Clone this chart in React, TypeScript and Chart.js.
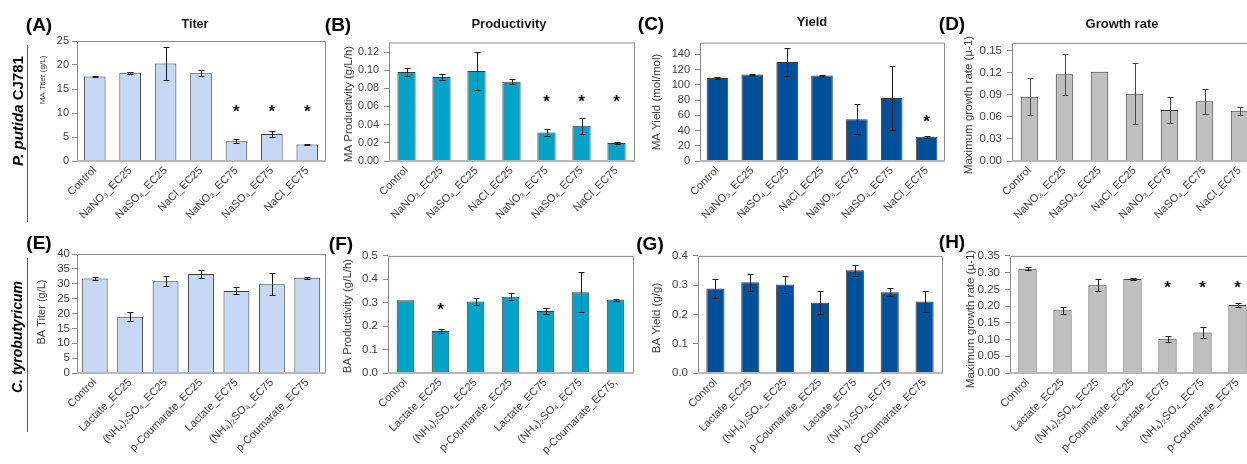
import React, { useEffect, useRef } from "react";
import { Chart, registerables } from "chart.js";

Chart.register(...registerables);

const FONT = '"Liberation Sans", Arial, Helvetica, sans-serif';

// Categories
const putidaLabels = ["Control", "NaNO₃_EC25", "NaSO₄_EC25", "NaCl_EC25", "NaNO₃_EC75", "NaSO₄_EC75", "NaCl_EC75"];
const tyroLabels = ["Control", "Lactate_EC25", "(NH₄)₂SO₄_EC25", "p-Coumarate_EC25", "Lactate_EC75", "(NH₄)₂SO₄_EC75", "p-Coumarate_EC75"];
const tyroLabelsF = ["Control", "Lactate_EC25", "(NH₄)₂SO₄_EC25", "p-Coumarate_EC25", "Lactate_EC75", "(NH₄)₂SO₄_EC75", "p-Coumarate_EC75,"];

// P. putida CJ781 series (mean, error)
const maTiter = [17.6, 18.4, 20.3, 18.3, 4.1, 5.6, 3.45];
const maTiterErr = [0.15, 0.2, 3.4, 0.6, 0.45, 0.7, 0.1];
const maProductivity = [0.098, 0.0925, 0.099, 0.0873, 0.0315, 0.0388, 0.0199];
const maProductivityErr = [0.004, 0.003, 0.0205, 0.003, 0.004, 0.0087, 0.0007];
const maYield = [109, 113.7, 130.1, 112.4, 54.8, 82.7, 31.9];
const maYieldErr = [0.8, 0.5, 18, 1.2, 19.5, 41.7, 1.5];
const ppGrowth = [0.0877, 0.1182, 0.1218, 0.0918, 0.0694, 0.0815, 0.0685];
const ppGrowthErr = [0.025, 0.028, 0, 0.0416, 0.018, 0.017, 0.0054];

// C. tyrobutyricum series (mean, error)
const baTiter = [31.8, 18.9, 30.8, 33.3, 27.6, 29.8, 32.0];
const baTiterErr = [0.4, 1.5, 1.7, 1.2, 1.2, 3.7, 0.3];
const baProductivity = [0.311, 0.179, 0.305, 0.326, 0.265, 0.345, 0.313];
const baProductivityErr = [0, 0.009, 0.014, 0.015, 0.013, 0.086, 0.004];
const baYield = [0.289, 0.31, 0.302, 0.24, 0.351, 0.276, 0.244];
const baYieldErr = [0.033, 0.029, 0.028, 0.04, 0.019, 0.013, 0.036];
const ctGrowth = [0.3116, 0.1877, 0.2626, 0.2812, 0.102, 0.121, 0.2036];
const ctGrowthErr = [0.005, 0.011, 0.017, 0.004, 0.01, 0.017, 0.006];

// Significance markers (1 = significant) and the level where the star sits
const sigA = [0, 0, 0, 0, 1, 1, 1];
const sigB = [0, 0, 0, 0, 1, 1, 1];
const sigC = [0, 0, 0, 0, 0, 0, 1];
const sigF = [0, 1, 0, 0, 0, 0, 0];
const sigH = [0, 0, 0, 0, 1, 1, 1];
const none = [0, 0, 0, 0, 0, 0, 0];

const LIGHT_BLUE = "#c5d8f6";
const CYAN = "#02a2c9";
const NAVY = "#00509b";
const GREY = "#bfbfbf";

type Spec = {
  key: string;
  labels: string[];
  values: number[];
  errors: number[];
  sig: number[];
  sigLevel: number;
  color: string;
  barPct: number;
  yMax: number;
  yStep: number;
  dec: number;
  yTitle: string;
  yTitleSize: number;
  yTitleX: number;
  yTitleY: number;
  tickSize: number;
  tickPad: number;
  errColor: string;
  plot: { l: number; t: number; r: number; b: number };
  xH: number;
};

const Y_W = 60;
const PAD_T = 10;
const PAD_R = 6;

const specs: Spec[] = [
  {
    key: "A", labels: putidaLabels, values: maTiter, errors: maTiterErr, sig: sigA, sigLevel: 11.25,
    color: LIGHT_BLUE, barPct: 0.61, yMax: 25, yStep: 5, dec: 0,
    yTitle: "MA Titer (g/L)", yTitleSize: 8, yTitleX: 43, yTitleY: 80, tickSize: 11, tickPad: 3,
    errColor: "#1a1a1a", plot: { l: 77, t: 41, r: 325, b: 161 }, xH: 60,
  },
  {
    key: "B", labels: putidaLabels, values: maProductivity, errors: maProductivityErr, sig: sigB, sigLevel: 0.071,
    color: CYAN, barPct: 0.52, yMax: 0.1305, yStep: 0.02, dec: 2,
    yTitle: "MA Productivity (g/L/h)", yTitleSize: 11.5, yTitleX: 349, yTitleY: 104, tickSize: 10.8, tickPad: 5,
    errColor: "#1a1a1a", plot: { l: 389, t: 41, r: 634, b: 161 }, xH: 60,
  },
  {
    key: "C", labels: putidaLabels, values: maYield, errors: maYieldErr, sig: sigC, sigLevel: 57.4,
    color: NAVY, barPct: 0.62, yMax: 155.5, yStep: 20, dec: 0,
    yTitle: "MA Yield (mol/mol)", yTitleSize: 11.5, yTitleX: 657, yTitleY: 102, tickSize: 11, tickPad: 5,
    errColor: "#1a1a1a", plot: { l: 700, t: 41, r: 944, b: 161 }, xH: 60,
  },
  {
    key: "D", labels: putidaLabels, values: ppGrowth, errors: ppGrowthErr, sig: none, sigLevel: 0,
    color: GREY, barPct: 0.5, yMax: 0.161, yStep: 0.03, dec: 2,
    yTitle: "Maximum growth rate (µ-1)", yTitleSize: 11.5, yTitleX: 969, yTitleY: 105, tickSize: 11.5, tickPad: 5,
    errColor: "#4a4a4a", plot: { l: 1012, t: 41, r: 1257, b: 161 }, xH: 60,
  },
  {
    key: "E", labels: tyroLabels, values: baTiter, errors: baTiterErr, sig: none, sigLevel: 0,
    color: LIGHT_BLUE, barPct: 0.73, yMax: 40, yStep: 5, dec: 0,
    yTitle: "BA Titer (g/L)", yTitleSize: 11, yTitleX: 42, yTitleY: 312, tickSize: 11.5, tickPad: 2,
    errColor: "#1a1a1a", plot: { l: 77, t: 254, r: 325, b: 373 }, xH: 100,
  },
  {
    key: "F", labels: tyroLabelsF, values: baProductivity, errors: baProductivityErr, sig: sigF, sigLevel: 0.291,
    color: CYAN, barPct: 0.5, yMax: 0.5, yStep: 0.1, dec: 1,
    yTitle: "BA Productivity (g/L/h)", yTitleSize: 11.5, yTitleX: 348, yTitleY: 316, tickSize: 11.5, tickPad: 5,
    errColor: "#1a1a1a", plot: { l: 388, t: 254, r: 633, b: 373 }, xH: 100,
  },
  {
    key: "G", labels: tyroLabels, values: baYield, errors: baYieldErr, sig: none, sigLevel: 0,
    color: NAVY, barPct: 0.52, yMax: 0.4, yStep: 0.1, dec: 1,
    yTitle: "BA Yield (g/g)", yTitleSize: 11.5, yTitleX: 657, yTitleY: 318, tickSize: 11.5, tickPad: 5,
    errColor: "#1a1a1a", plot: { l: 698, t: 254, r: 942, b: 373 }, xH: 100,
  },
  {
    key: "H", labels: tyroLabels, values: ctGrowth, errors: ctGrowthErr, sig: sigH, sigLevel: 0.2694,
    color: GREY, barPct: 0.52, yMax: 0.35, yStep: 0.05, dec: 2,
    yTitle: "Maximum growth rate (µ-1)", yTitleSize: 11.5, yTitleX: 971, yTitleY: 319, tickSize: 11.5, tickPad: 5,
    errColor: "#1a1a1a", plot: { l: 1010, t: 254, r: 1255, b: 373 }, xH: 100,
  },
];

function Panel({ s }: { s: Spec }) {
  const ref = useRef<HTMLCanvasElement | null>(null);
  const left = s.plot.l - Y_W;
  const top = s.plot.t - PAD_T;
  const width = Y_W + (s.plot.r - s.plot.l) + PAD_R;
  const height = PAD_T + (s.plot.b - s.plot.t) + s.xH;

  useEffect(() => {
    if (!ref.current) return;
    const decor = {
      id: "decor" + s.key,
      afterDatasetsDraw(chart: any) {
        const { ctx, chartArea: a, scales } = chart;
        const x = scales.x;
        const y = scales.y;
        ctx.save();
        // error bars
        ctx.strokeStyle = s.errColor;
        ctx.lineWidth = 1;
        s.values.forEach((v, i) => {
          const e = s.errors[i];
          if (!e) return;
          const cx = Math.round(x.getPixelForValue(i)) + 0.5;
          const yt = Math.round(y.getPixelForValue(v + e)) + 0.5;
          const yb = Math.round(y.getPixelForValue(v - e)) + 0.5;
          ctx.beginPath();
          ctx.moveTo(cx, yt);
          ctx.lineTo(cx, yb);
          ctx.moveTo(cx - 3, yt);
          ctx.lineTo(cx + 3, yt);
          ctx.moveTo(cx - 3, yb);
          ctx.lineTo(cx + 3, yb);
          ctx.stroke();
        });
        // significance stars
        const starSize = 17;
        ctx.fillStyle = "#111";
        ctx.font = `bold ${starSize}px ${FONT}`;
        ctx.textAlign = "center";
        ctx.textBaseline = "alphabetic";
        s.sig.forEach((m, i) => {
          if (!m) return;
          const cx = x.getPixelForValue(i);
          const cy = y.getPixelForValue(s.sigLevel);
          ctx.fillText("*", cx, cy + 0.6 * starSize);
        });
        // plot frame
        ctx.strokeStyle = "#8a8a8a";
        ctx.lineWidth = 1;
        ctx.beginPath();
        ctx.moveTo(a.left + 0.5, a.bottom);
        ctx.lineTo(a.left + 0.5, a.top + 0.5);
        ctx.lineTo(a.right + 0.5, a.top + 0.5);
        ctx.lineTo(a.right + 0.5, a.bottom);
        ctx.stroke();
        ctx.strokeStyle = "#b8b8b8";
        ctx.lineWidth = 2;
        ctx.beginPath();
        ctx.moveTo(a.left, a.bottom);
        ctx.lineTo(a.right + 1, a.bottom);
        ctx.stroke();
        // y axis title
        ctx.fillStyle = "#404040";
        ctx.font = `${s.yTitleSize}px ${FONT}`;
        ctx.textAlign = "center";
        ctx.textBaseline = "middle";
        ctx.translate(s.yTitleX - left, s.yTitleY - top);
        ctx.rotate(-Math.PI / 2);
        ctx.fillText(s.yTitle, 0, 0);
        ctx.restore();
      },
    };

    const chart = new Chart(ref.current, {
      type: "bar",
      data: {
        labels: s.labels,
        datasets: [
          {
            data: s.values,
            backgroundColor: s.color,
            borderColor: "#3a3a3a",
            borderWidth: 1,
            barPercentage: s.barPct,
            categoryPercentage: 1,
          },
        ],
      },
      options: {
        responsive: false,
        animation: false,
        events: [],
        layout: { padding: { top: PAD_T, right: PAD_R, left: 0, bottom: 0 }, autoPadding: false },
        plugins: { legend: { display: false }, tooltip: { enabled: false } },
        scales: {
          x: {
            grid: { display: false, drawTicks: false },
            border: { display: false },
            ticks: {
              autoSkip: false,
              maxRotation: 45,
              minRotation: 45,
              padding: 3,
              color: "#404040",
              font: { family: FONT, size: 11 },
            },
            afterFit: (sc: any) => {
              sc.height = s.xH;
            },
          },
          y: {
            min: 0,
            max: s.yMax,
            ticks: {
              stepSize: s.yStep,
              autoSkip: false,
              includeBounds: false,
              padding: s.tickPad,
              color: "#404040",
              font: { family: FONT, size: s.tickSize },
              callback: (v: any) => Number(v).toFixed(s.dec),
            },
            grid: { drawOnChartArea: false, drawTicks: true, tickLength: 5, color: "#8a8a8a" },
            border: { display: false },
            afterFit: (sc: any) => {
              sc.width = Y_W;
            },
          },
        },
      },
      plugins: [decor],
    } as any);
    return () => chart.destroy();
  }, []);

  return (
    <canvas
      ref={ref}
      width={width}
      height={height}
      style={{ position: "absolute", left, top, width, height }}
    />
  );
}

const textBase: React.CSSProperties = {
  position: "absolute",
  fontFamily: FONT,
  color: "#000",
  whiteSpace: "nowrap",
  transform: "translate(-50%, -50%)",
  lineHeight: 1,
};

const panelLetters = [
  { t: "(A)", x: 39, y: 24 },
  { t: "(B)", x: 338, y: 24 },
  { t: "(C)", x: 651, y: 23 },
  { t: "(D)", x: 952, y: 23 },
  { t: "(E)", x: 39, y: 242 },
  { t: "(F)", x: 341, y: 243 },
  { t: "(G)", x: 650, y: 243 },
  { t: "(H)", x: 952, y: 241 },
];

const panelTitles = [
  { t: "Titer", x: 195, y: 24, size: 12.5 },
  { t: "Productivity", x: 509, y: 23, size: 13 },
  { t: "Yield", x: 812, y: 21, size: 13 },
  { t: "Growth rate", x: 1122, y: 23, size: 13 },
];

export default function App() {
  return (
    <div
      style={{
        position: "fixed",
        left: 0,
        top: 0,
        width: 1247,
        height: 464,
        overflow: "hidden",
        background: "#fff",
      }}
    >
      {specs.map((s) => (
        <Panel key={s.key} s={s} />
      ))}
      {panelLetters.map((p) => (
        <div key={p.t} style={{ ...textBase, left: p.x, top: p.y, fontSize: 19, fontWeight: "bold" }}>
          {p.t}
        </div>
      ))}
      {panelTitles.map((p) => (
        <div key={p.t} style={{ ...textBase, left: p.x, top: p.y, fontSize: p.size, fontWeight: "bold", color: "#1a1a1a" }}>
          {p.t}
        </div>
      ))}
      <div
        style={{
          ...textBase,
          left: 17,
          top: 111,
          fontSize: 15,
          fontWeight: "bold",
          transform: "translate(-50%, -50%) rotate(-90deg)",
        }}
      >
        <i>P. putida</i> CJ781
      </div>
      <div style={{ position: "absolute", left: 27, top: 45, width: 0, height: 177, borderLeft: "1px solid #555" }} />
      <div
        style={{
          ...textBase,
          left: 17,
          top: 337,
          fontSize: 14,
          fontWeight: "bold",
          transform: "translate(-50%, -50%) rotate(-90deg)",
        }}
      >
        <i>C. tyrobutyricum</i>
      </div>
      <div style={{ position: "absolute", left: 27, top: 258, width: 0, height: 174, borderLeft: "1px solid #555" }} />
    </div>
  );
}
